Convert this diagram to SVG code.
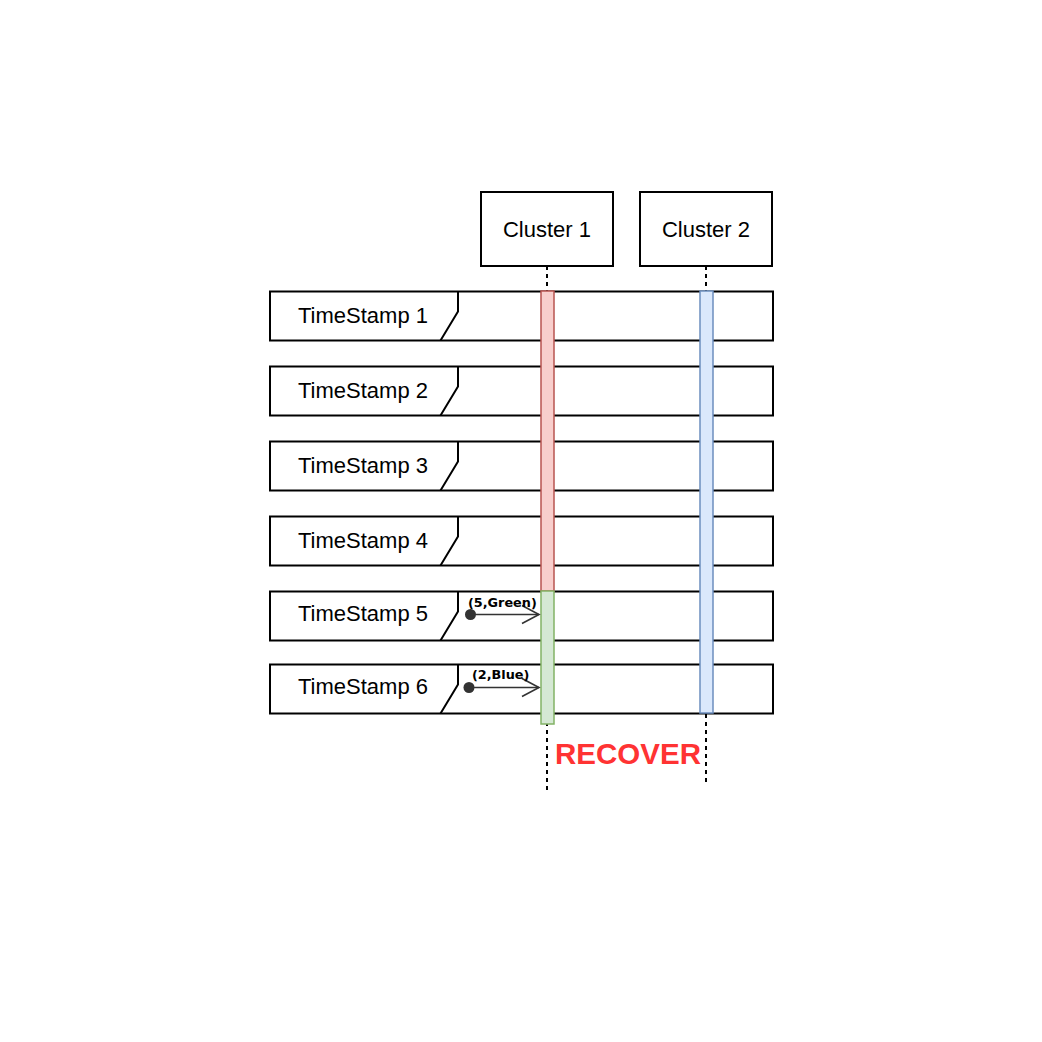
<svg xmlns="http://www.w3.org/2000/svg" width="1042" height="1042" viewBox="0 0 1042 1042">
<defs>
<style>
.frame{fill:#ffffff;stroke:#000000;stroke-width:2}
.tab{fill:none;stroke:#000000;stroke-width:2}
.lbl{font-family:"Liberation Sans",Arial,sans-serif;font-size:22px;fill:#000000;text-anchor:middle}
.box{fill:#ffffff;stroke:#000000;stroke-width:2}
.life{stroke:#000000;stroke-width:2;stroke-dasharray:4 4;fill:none}
.msg{stroke:#333333;stroke-width:1.6;fill:none}
.mlbl{font-family:"DejaVu Sans",Verdana,sans-serif;font-weight:bold;font-size:12.8px;fill:#000000}
</style>
</defs>
<rect width="1042" height="1042" fill="#ffffff"/>
<g id="lifelines">
<line class="life" x1="547" y1="266" x2="547" y2="791"/>
<line class="life" x1="706" y1="266" x2="706" y2="786"/>
</g>
<g id="cluster1">
<rect class="box" x="481" y="192" width="132" height="74"/>
<text class="lbl" x="547" y="236.5">Cluster 1</text>
</g>
<g id="cluster2">
<rect class="box" x="640" y="192" width="132" height="74"/>
<text class="lbl" x="706" y="236.5">Cluster 2</text>
</g>
<g id="ts1">
<rect class="frame" x="270" y="291.5" width="503" height="49"/>
<path class="tab" d="M458,291.5 V311.5 L440.5,340.5"/>
<text class="lbl" x="363" y="323">TimeStamp 1</text>
</g>
<g id="ts2">
<rect class="frame" x="270" y="366.5" width="503" height="49"/>
<path class="tab" d="M458,366.5 V386.5 L440.5,415.5"/>
<text class="lbl" x="363" y="398">TimeStamp 2</text>
</g>
<g id="ts3">
<rect class="frame" x="270" y="441.5" width="503" height="49"/>
<path class="tab" d="M458,441.5 V461.5 L440.5,490.5"/>
<text class="lbl" x="363" y="473">TimeStamp 3</text>
</g>
<g id="ts4">
<rect class="frame" x="270" y="516.5" width="503" height="49"/>
<path class="tab" d="M458,516.5 V536.5 L440.5,565.5"/>
<text class="lbl" x="363" y="548">TimeStamp 4</text>
</g>
<g id="ts5">
<rect class="frame" x="270" y="591.5" width="503" height="49"/>
<path class="tab" d="M458,591.5 V611.5 L440.5,640.5"/>
<text class="lbl" x="363" y="621">TimeStamp 5</text>
</g>
<g id="ts6">
<rect class="frame" x="270" y="664.5" width="503" height="49"/>
<path class="tab" d="M458,664.5 V684.5 L440.5,713.5"/>
<text class="lbl" x="363" y="694">TimeStamp 6</text>
</g>
<g id="act-red">
<rect x="541" y="291" width="13" height="300" fill="#f8cecc" stroke="#b85450" stroke-width="1.5"/>
</g>
<g id="act-green">
<rect x="541" y="591" width="13" height="133" fill="#d5e8d4" stroke="#82b366" stroke-width="1.5"/>
</g>
<g id="act-blue">
<rect x="700" y="291" width="13" height="422" fill="#dae8fc" stroke="#6c8ebf" stroke-width="1.5"/>
</g>
<g id="connectors">
<circle cx="470.5" cy="614.5" r="5.5" fill="#333333"/>
<line class="msg" x1="470.5" y1="614.5" x2="539" y2="614.5"/>
<polyline class="msg" points="522,605.5 539,614.5 522,623.5"/>
<text class="mlbl" x="468" y="606.5">(5,Green)</text>
<circle cx="469" cy="687.5" r="5.5" fill="#333333"/>
<line class="msg" x1="469" y1="687.5" x2="539" y2="687.5"/>
<polyline class="msg" points="522,678.5 539,687.5 522,696.5"/>
<text class="mlbl" x="472" y="679">(2,Blue)</text>
</g>
<g id="recover">
<text x="628" y="764" font-family="'Liberation Sans',Arial,sans-serif" font-weight="bold" font-size="29.5px" fill="#ff3333" text-anchor="middle">RECOVER</text>
</g>
</svg>
